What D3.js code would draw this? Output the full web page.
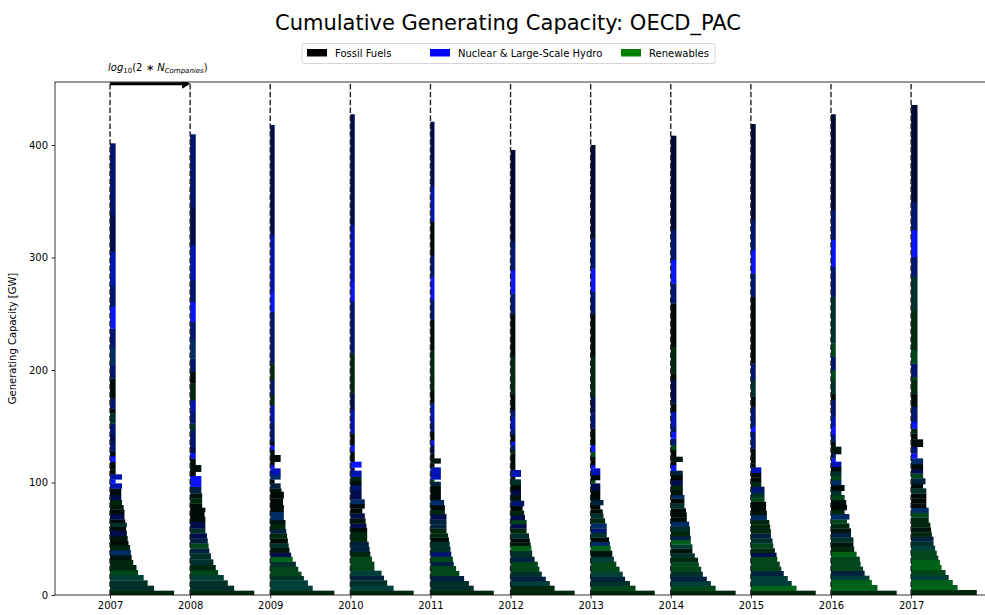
<!DOCTYPE html>
<html lang="en">
<head>
<meta charset="UTF-8" />
<title>Cumulative Generating Capacity: OECD_PAC</title>
<script src="https://cdn.jsdelivr.net/npm/d3@7"></script>
<style>
  body { margin: 0; background: #fff; }
  svg { font-family: "DejaVu Sans", sans-serif; }
</style>
</head>
<body>
<svg id="chart" width="985" height="615"></svg>
<script>
// years and axis ticks
const years = [2007, 2008, 2009, 2010, 2011, 2012, 2013, 2014, 2015, 2016, 2017];
const yTicks = [0, 100, 200, 300, 400];
const legendLabels = ["Fossil Fuels", "Nuclear & Large-Scale Hydro", "Renewables"];

// fuel mix classes (k fossil ... B nuclear/hydro ... L renewables)
const mixColor = {
  k: "#000a06", x: "#00140c", g: "#00280e", G: "#00461a", L: "#006218",
  t: "#00302a", T: "#003e38", s: "#00223e", n: "#000c4c", N: "#00166e",
  S: "#002c66", u: "#0014b4", B: "#0a14ff", v: "#000a32"
};

// lower (company) bars: [cumulative top GW, log10 width in years, mix]
const bars2007 = [[3.85,.80,'g'],[8.30,.55,'t'],[13.04,.47,'t'],[17.78,.42,'T'],[22.22,.35,'G'],[26.67,.33,'g'],
  [31.11,.29,'g'],[35.56,.27,'x'],[40.00,.26,'S'],[44.44,.25,'g'],[48.00,.23,'k'],[52.44,.22,'x'],[57.19,.21,'n'],
  [60.74,.20,'k'],[64.30,.21,'t'],[67.26,.19,'k'],[72.00,.18,'n'],[76.15,.18,'k'],[80.00,.17,'x'],[84.44,.15,'g'],
  [88.89,.14,'n'],[93.33,.14,'k'],[94.81,.14,'k'],[99.26,.15,'u'],[102.81,.07,'B'],[107.26,.15,'u']];
const bars2008 = [[3.85,.80,'g'],[8.30,.55,'t'],[13.04,.47,'t'],[17.78,.42,'T'],[22.22,.35,'G'],[26.67,.32,'g'],
  [31.70,.29,'t'],[37.04,.26,'t'],[41.48,.24,'s'],[45.93,.23,'G'],[50.37,.22,'s'],[54.81,.21,'n'],[59.26,.19,'t'],
  [65.19,.19,'n'],[69.63,.19,'k'],[74.07,.18,'k'],[77.63,.19,'k'],[81.48,.15,'k'],[85.93,.15,'g'],[90.37,.15,'x'],
  [96.30,.14,'s'],[102.22,.14,'B'],[105.78,.14,'B'],[109.63,.07,'k'],[115.56,.14,'x']];
const bars2009 = [[3.85,.80,'g'],[8.30,.53,'T'],[13.04,.47,'T'],[16.89,.42,'t'],[20.74,.39,'G'],[25.19,.35,'G'],
  [29.63,.32,'t'],[34.07,.28,'L'],[37.63,.26,'n'],[42.07,.24,'x'],[45.93,.23,'t'],[50.37,.22,'k'],[54.81,.21,'g'],
  [58.67,.20,'s'],[63.11,.19,'g'],[66.67,.19,'x'],[74.07,.17,'S'],[80.00,.17,'k'],[85.93,.16,'k'],[91.85,.17,'k'],
  [94.81,.14,'x'],[99.26,.13,'s'],[102.81,.055,'k'],[106.67,.13,'S'],[112.59,.13,'u'],[115.56,.055,'B'],
  [118.52,.055,'k'],[124.44,.13,'k']];
const bars2010 = [[3.85,.79,'g'],[8.30,.54,'T'],[13.04,.46,'t'],[17.19,.42,'s'],[21.63,.39,'T'],[29.63,.30,'G'],
  [34.07,.27,'G'],[38.52,.25,'g'],[42.96,.24,'s'],[47.41,.23,'s'],[51.85,.21,'g'],[56.30,.21,'g'],[59.85,.21,'k'],
  [63.70,.20,'n'],[68.15,.19,'x'],[72.59,.18,'n'],[77.04,.15,'k'],[80.89,.18,'k'],[85.04,.18,'S'],[88.89,.14,'n'],
  [93.33,.14,'n'],[97.78,.14,'N'],[101.33,.14,'k'],[105.19,.14,'g'],[110.52,.14,'u'],[113.48,.055,'n'],[118.52,.14,'B']];
const bars2011 = [[3.85,.79,'g'],[8.30,.54,'t'],[12.44,.48,'t'],[16.89,.42,'s'],[21.33,.36,'G'],[25.78,.32,'G'],
  [29.63,.29,'s'],[34.07,.28,'G'],[38.52,.26,'N'],[42.96,.25,'t'],[47.41,.24,'t'],[51.26,.23,'k'],[54.81,.22,'g'],
  [59.26,.20,'g'],[62.81,.20,'s'],[67.26,.20,'s'],[72.00,.20,'n'],[75.56,.18,'g'],[80.00,.18,'k'],[84.44,.17,'S'],
  [88.89,.13,'k'],[93.33,.13,'k'],[96.89,.13,'k'],[100.74,.13,'s'],[102.81,.05,'G'],[108.74,.13,'u'],[113.48,.13,'u'],
  [117.04,.05,'k'],[121.48,.13,'x']];
const bars2012 = [[3.85,.80,'g'],[8.30,.55,'g'],[12.44,.49,'T'],[16.30,.44,'s'],[20.74,.39,'t'],[25.19,.36,'G'],
  [29.63,.34,'G'],[34.07,.30,'s'],[39.41,.27,'t'],[43.85,.26,'L'],[46.81,.25,'x'],[50.37,.24,'k'],[54.81,.23,'t'],
  [59.26,.20,'g'],[63.11,.20,'n'],[66.67,.20,'G'],[71.11,.18,'n'],[74.96,.17,'g'],[79.11,.15,'k'],[83.85,.17,'N'],
  [88.89,.13,'x'],[93.33,.13,'n'],[97.78,.13,'k'],[102.81,.13,'t'],[105.19,.06,'k'],[111.11,.13,'u'],[115.56,.06,'k']];
const bars2013 = [[3.85,.80,'g'],[8.30,.56,'G'],[12.44,.49,'t'],[16.30,.43,'s'],[20.74,.40,'T'],[25.19,.36,'G'],
  [29.63,.32,'G'],[34.07,.29,'T'],[39.41,.27,'x'],[43.85,.25,'L'],[47.41,.24,'S'],[51.26,.23,'k'],[55.41,.20,'t'],
  [59.26,.20,'N'],[63.70,.20,'S'],[68.15,.18,'g'],[72.59,.16,'t'],[76.15,.15,'k'],[80.00,.12,'k'],[84.44,.16,'s'],
  [88.89,.12,'k'],[93.33,.12,'k'],[99.26,.12,'n'],[102.22,.06,'G'],[106.67,.12,'k'],[112.59,.12,'u'],[115.56,.06,'B']];
const bars2014 = [[3.85,.81,'g'],[8.30,.56,'G'],[12.44,.50,'T'],[16.30,.45,'s'],[20.74,.40,'t'],[25.19,.38,'G'],
  [29.04,.35,'G'],[33.19,.34,'g'],[37.04,.30,'t'],[41.48,.27,'x'],[45.04,.27,'T'],[48.89,.25,'L'],[52.74,.25,'s'],
  [56.89,.24,'g'],[60.74,.24,'t'],[65.19,.23,'S'],[69.04,.20,'k'],[73.19,.20,'k'],[77.04,.19,'k'],[81.48,.17,'t'],
  [85.93,.17,'k'],[88.89,.17,'S'],[93.33,.15,'x'],[97.78,.15,'g'],[102.22,.15,'n'],[106.67,.15,'k'],[110.52,.15,'s'],
  [115.56,.07,'B'],[118.52,.07,'k'],[122.96,.15,'x']];
const bars2015 = [[3.85,.81,'g'],[8.30,.57,'L'],[12.44,.51,'T'],[16.89,.46,'T'],[21.33,.41,'s'],[25.19,.38,'G'],
  [29.63,.36,'G'],[34.07,.33,'G'],[37.63,.32,'n'],[41.48,.30,'g'],[45.93,.28,'G'],[50.37,.27,'t'],[54.81,.25,'s'],
  [58.67,.25,'g'],[62.81,.24,'g'],[66.67,.23,'g'],[71.11,.20,'S'],[74.67,.20,'x'],[79.11,.19,'k'],[82.96,.19,'k'],
  [87.41,.17,'G'],[90.96,.17,'t'],[96.30,.17,'N'],[100.74,.13,'g'],[104.59,.13,'k'],[108.74,.13,'k'],[113.48,.13,'u'],
  [117.04,.06,'k']];
const bars2016 = [[3.85,.82,'g'],[8.89,.58,'L'],[13.33,.51,'L'],[17.19,.48,'T'],[21.63,.42,'s'],[25.19,.40,'G'],
  [29.63,.37,'G'],[34.07,.36,'G'],[38.52,.32,'L'],[42.96,.29,'g'],[46.81,.28,'x'],[51.26,.28,'t'],[55.41,.25,'s'],
  [59.26,.25,'x'],[63.70,.23,'g'],[67.26,.20,'G'],[72.00,.23,'S'],[75.56,.17,'g'],[80.00,.20,'k'],[84.44,.19,'k'],
  [88.89,.17,'G'],[92.74,.13,'t'],[97.78,.17,'k'],[102.22,.13,'S'],[106.07,.13,'G'],[110.22,.13,'t'],[114.07,.13,'k'],
  [118.52,.13,'u'],[121.48,.06,'B'],[125.33,.06,'N'],[131.85,.13,'x']];
const bars2017 = [[4.44,.82,'g'],[8.89,.58,'L'],[13.33,.52,'L'],[17.78,.47,'T'],[22.22,.43,'G'],[26.67,.38,'L'],
  [31.11,.36,'L'],[34.96,.34,'G'],[39.41,.32,'G'],[43.85,.30,'T'],[47.70,.28,'t'],[51.85,.28,'s'],[55.70,.26,'g'],
  [60.15,.25,'x'],[64.30,.24,'g'],[69.04,.22,'g'],[73.19,.22,'G'],[77.63,.22,'S'],[81.48,.19,'k'],[85.93,.19,'k'],
  [90.37,.19,'k'],[94.81,.19,'t'],[98.67,.15,'k'],[103.70,.18,'s'],[108.15,.15,'G'],[112.00,.15,'n'],[116.44,.15,'k'],
  [121.48,.15,'S'],[125.93,.08,'B'],[131.85,.08,'N'],[138.37,.15,'k']];

// narrow stem of the largest companies: [cumulative top GW, mix]
const stem2007 = [[111.70,'k'],[118.52,'k'],[123.56,'B'],[127.41,'k'],[136.30,'N'],[142.22,'n'],[152.59,'N'],
  [161.48,'t'],[165.93,'k'],[174.81,'N'],[192.6,'k'],[204.4,'N'],[220.7,'S'],[237,'N'],[256.3,'B'],[275.6,'N'],
  [305.2,'u'],[337.8,'n'],[401.5,'N']];
const stem2008 = [[121.48,'k'],[126.52,'B'],[131.85,'n'],[146.67,'N'],[152.59,'t'],[162.96,'N'],[173.33,'u'],
  [188.1,'g'],[198.5,'k'],[210.4,'N'],[226.7,'S'],[243,'N'],[260.7,'B'],[280,'N'],[311.1,'u'],[345.2,'n'],[409.5,'N']];
const stem2009 = [[128.89,'k'],[133.33,'B'],[136.30,'k'],[140.74,'N'],[154.07,'N'],[168.9,'u'],[177.78,'g'],
  [191.11,'N'],[205.9,'g'],[251.9,'N'],[269.6,'B'],[320,'u'],[417.8,'n']];
const stem2010 = [[122.96,'k'],[127.41,'k'],[133.33,'B'],[143.70,'k'],[164.44,'u'],[179.26,'n'],[191.11,'g'],
  [214.8,'g'],[260.7,'N'],[278.5,'B'],[328.9,'u'],[427.3,'n']];
const stem2011 = [[125.93,'k'],[133.33,'n'],[137.78,'B'],[145.19,'k'],[154.07,'N'],[170.37,'u'],[182.22,'k'],
  [191.11,'g'],[217.8,'g'],[244.4,'k'],[262.2,'N'],[283,'B'],[302.2,'N'],[331.9,'k'],[363,'u'],[420.7,'n']];
const stem2012 = [[125.93,'k'],[128.89,'g'],[133.33,'N'],[136.30,'B'],[142.22,'k'],[146.67,'N'],[158.52,'u'],
  [164.44,'N'],[179.26,'k'],[191.11,'g'],[211.9,'g'],[250.4,'k'],[268.1,'N'],[288.9,'B'],[314,'N'],[395.6,'v']];
const stem2013 = [[122.96,'k'],[127.41,'G'],[133.33,'B'],[137.78,'k'],[148.15,'k'],[155.56,'N'],[161.48,'N'],
  [176.30,'n'],[185.19,'g'],[211.9,'g'],[250.4,'k'],[269.6,'N'],[290.4,'B'],[317,'N'],[400,'v']];
const stem2014 = [[128.89,'k'],[133.33,'G'],[139.26,'N'],[145.19,'B'],[149.63,'N'],[162.96,'u'],[170.37,'k'],
  [191.11,'n'],[197,'k'],[220.7,'g'],[259.3,'k'],[277,'N'],[297.8,'B'],[324.4,'N'],[408.3,'v']];
const stem2015 = [[122.96,'k'],[130.37,'k'],[136.30,'N'],[145.19,'N'],[149.63,'B'],[154.07,'N'],[167.41,'N'],
  [176.30,'k'],[191.11,'t'],[205.9,'N'],[265.2,'k'],[285.9,'N'],[306.7,'B'],[333.3,'N'],[418.7,'v']];
const stem2016 = [[136.30,'k'],[142.22,'N'],[149.63,'B'],[158.52,'u'],[173.33,'N'],[179.26,'k'],[191.11,'t'],
  [200,'G'],[211.9,'N'],[223.7,'G'],[265.2,'t'],[291.9,'N'],[315.6,'B'],[342.2,'N'],[427.3,'v']];
const stem2017 = [[143.70,'k'],[148.15,'g'],[154.07,'B'],[160.00,'N'],[167.41,'N'],[179.26,'k'],[191.11,'g'],
  [194.1,'G'],[205.9,'N'],[217.8,'G'],[253.3,'g'],[283,'t'],[300.7,'N'],[324.4,'B'],[349.6,'N'],[435.6,'v']];
const stemWidths = [0.07, 0.07, 0.055, 0.055, 0.05, 0.06, 0.06, 0.07, 0.06, 0.06, 0.08];

const lowerBars = [bars2007, bars2008, bars2009, bars2010, bars2011, bars2012, bars2013, bars2014, bars2015, bars2016, bars2017];
const stems = [stem2007, stem2008, stem2009, stem2010, stem2011, stem2012, stem2013, stem2014, stem2015, stem2016, stem2017];

const svg = d3.select("#chart");
const margin = { left: 55, top: 82, right: 988, bottom: 595 };
const x = d3.scaleLinear().domain([2006.313, 2017.96]).range([margin.left, margin.right]);
const y = d3.scaleLinear().domain([0, 456]).range([margin.bottom, margin.top]);

svg.append("clipPath").attr("id", "plotclip")
  .append("rect")
  .attr("x", margin.left).attr("y", margin.top)
  .attr("width", margin.right - margin.left).attr("height", margin.bottom - margin.top);

const plot = svg.append("g").attr("clip-path", "url(#plotclip)");

// bars
years.forEach((yr, i) => {
  const segs = lowerBars[i].map(d => ({ top: d[0], w: d[1], c: d[2] }))
    .concat(stems[i].map(d => ({ top: d[0], w: stemWidths[i], c: d[1] })));
  let prev = 0;
  segs.forEach(s => { s.bottom = prev; prev = s.top; });
  plot.append("g").selectAll("rect")
    .data(segs)
    .join("rect")
    .attr("x", x(yr))
    .attr("width", s => x(yr + s.w) - x(yr))
    .attr("y", s => y(s.top))
    .attr("height", s => y(s.bottom) - y(s.top) + 0.3)
    .attr("fill", s => mixColor[s.c]);
});

// dashed year separators
plot.append("g").selectAll("line")
  .data(years)
  .join("line")
  .attr("x1", d => x(d)).attr("x2", d => x(d))
  .attr("y1", y(0)).attr("y2", margin.top)
  .attr("stroke", "#222")
  .attr("stroke-width", 1.4)
  .attr("stroke-dasharray", "5.5,2.4");

// arrow showing one log10(2*N) unit
const arrowY = y(454.5);
plot.append("line")
  .attr("x1", x(2007)).attr("x2", x(2008) - 6)
  .attr("y1", arrowY).attr("y2", arrowY)
  .attr("stroke", "#000").attr("stroke-width", 3);
plot.append("path")
  .attr("d", `M${x(2008) - 8},${arrowY - 5}L${x(2008)},${arrowY}L${x(2008) - 8},${arrowY + 5}Z`)
  .attr("fill", "#000");

const lbl = svg.append("text")
  .attr("x", x(2007) - 2).attr("y", 71)
  .attr("font-size", 10).attr("fill", "#000");
lbl.append("tspan").attr("font-style", "italic").text("log");
lbl.append("tspan").attr("font-size", 7).attr("dy", 2).text("10");
lbl.append("tspan").attr("dy", -2).text("(2 ∗ ");
lbl.append("tspan").attr("font-style", "italic").text("N");
lbl.append("tspan").attr("font-style", "italic").attr("font-size", 7).attr("dy", 2).text("Companies");
lbl.append("tspan").attr("dy", -2).text(")");

// axes
const yAxis = svg.append("g")
  .attr("transform", `translate(${margin.left},0)`)
  .call(d3.axisLeft(y).tickValues(yTicks).tickSize(3.5).tickPadding(3.5));
const xAxis = svg.append("g")
  .attr("transform", `translate(0,${margin.bottom})`)
  .call(d3.axisBottom(x).tickValues(years).tickFormat(d3.format("d")).tickSize(3.5).tickPadding(3.5));
[yAxis, xAxis].forEach(a => {
  a.select(".domain").remove();
  a.selectAll("text").attr("font-size", 10).attr("font-family", "DejaVu Sans, sans-serif").attr("fill", "#000");
  a.selectAll("line").attr("stroke", "#000").attr("stroke-width", 0.8);
});

svg.append("rect")
  .attr("x", margin.left).attr("y", margin.top)
  .attr("width", margin.right - margin.left).attr("height", margin.bottom - margin.top)
  .attr("fill", "none").attr("stroke", "#000").attr("stroke-width", 0.8);

svg.append("text")
  .attr("transform", `translate(16,${(margin.top + margin.bottom) / 2}) rotate(-90)`)
  .attr("text-anchor", "middle")
  .attr("font-size", 10)
  .text("Generating Capacity [GW]");

// title
svg.append("text")
  .attr("x", 508).attr("y", 30)
  .attr("text-anchor", "middle")
  .attr("font-size", 21)
  .text("Cumulative Generating Capacity: OECD_PAC");

// legend
const legendColors = ["#000000", "#0000ff", "#008000"];
const legendX = [307, 430, 621];
const legend = svg.append("g");
legend.append("rect")
  .attr("x", 302).attr("y", 43.5).attr("width", 413).attr("height", 20)
  .attr("rx", 2).attr("fill", "#fff").attr("stroke", "#ccc").attr("stroke-width", 0.8);
legendLabels.forEach((t, i) => {
  legend.append("rect")
    .attr("x", legendX[i]).attr("y", 49).attr("width", 20).attr("height", 7.5)
    .attr("fill", legendColors[i]);
  legend.append("text")
    .attr("x", legendX[i] + 28).attr("y", 57)
    .attr("font-size", 10)
    .text(t);
});
</script>
</body>
</html>
